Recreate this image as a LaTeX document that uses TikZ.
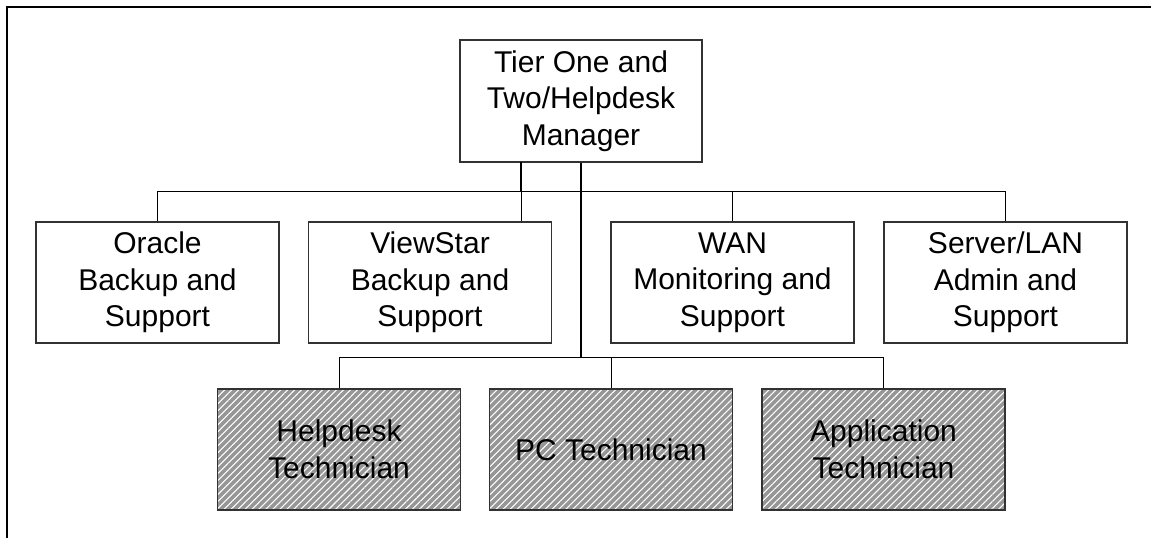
\documentclass[tikz,border=0pt]{standalone}
\usepackage{fontspec}
\setmainfont{Liberation Sans}
\usetikzlibrary{patterns.meta}
\definecolor{hatchgray}{RGB}{150,150,150}
\definecolor{boxline}{RGB}{50,50,50}
\begin{document}
\begin{tikzpicture}[x=0.75pt,y=-0.75pt,
  box/.style={draw=boxline,line width=0.9pt,rectangle,inner sep=0pt,
    minimum width=182.25pt,minimum height=90.75pt,align=center,
    font=\fontsize{22.5pt}{27.5pt}\selectfont},
  hatchbox/.style={box,preaction={fill=hatchgray},
    pattern={Lines[angle=45,distance=3.7pt,line width=0.8pt]},pattern color=white},
  conn/.style={draw=black,line width=0.75pt},
  thickconn/.style={draw=black,line width=1.4pt},
  frame/.style={draw=black,line width=1.6pt}]
\useasboundingbox (0,0) rectangle (1151,538);
\fill[white] (0,0) rectangle (1151,538);
\draw[frame] (7,560) -- (7,7) -- (1170,7);

\node[box,minimum width=181.5pt,minimum height=91.5pt] (top) at (581,101) {Tier One and\\Two/Helpdesk\\Manager};
\node[box] (oracle) at (157.5,282.5) {Oracle\\Backup and\\Support};
\node[box] (viewstar) at (430,282.5) {ViewStar\\Backup and\\Support};
\node[box] (wan) at (732.5,282.5) {WAN\\Monitoring and\\Support};
\node[box] (server) at (1005.5,282.5) {Server/LAN\\Admin and\\Support};
\node[hatchbox] (helpdesk) at (339,449.5) {Helpdesk\\Technician};
\node[hatchbox] (pc) at (611,449.5) {PC Technician};
\node[hatchbox] (app) at (883.5,449.5) {Application\\Technician};

\coordinate (bus) at (0,192);
\coordinate (lbus) at (0,357);
\coordinate (tl) at (521,162);

% upper bus
\draw[conn] (oracle.north) |- (bus -| server.north) -- (server.north);
\draw[conn] (wan.north) -- (wan.north |- bus);
\draw[thickconn] (tl) -- (tl |- bus);
\draw[conn] (tl |- bus) -- (tl |- viewstar.north);
\draw[thickconn] (top.south) -- (top.south |- bus);
\draw[line width=1.1pt] (top.south |- bus) -- (top.south |- lbus);
% lower bus
\draw[conn] (helpdesk.north) |- (lbus -| app.north) -- (app.north);
\draw[conn] (pc.north) -- (pc.north |- lbus);
\end{tikzpicture}
\end{document}
